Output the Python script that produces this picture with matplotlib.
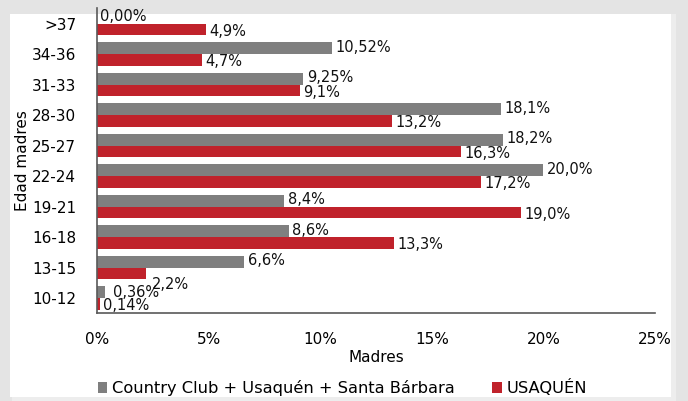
import matplotlib.pyplot as plt
import numpy as np
from matplotlib.patches import Rectangle

categorias = ["10-12", "13-15", "16-18", "19-21", "22-24", "25-27", "28-30", "31-33", "34-36", ">37"]
country = [0.36, 6.6, 8.6, 8.4, 20.0, 18.2, 18.1, 9.25, 10.52, 0.0]
usaquen = [0.14, 2.2, 13.3, 19.0, 17.2, 16.3, 13.2, 9.1, 4.7, 4.9]
etiq_country = ["0,36%", "6,6%", "8,6%", "8,4%", "20,0%", "18,2%", "18,1%", "9,25%", "10,52%", "0,00%"]
etiq_usaquen = ["0,14%", "2,2%", "13,3%", "19,0%", "17,2%", "16,3%", "13,2%", "9,1%", "4,7%", "4,9%"]

gris = "#7f7f7f"
rojo = "#c0222b"

fig = plt.figure(figsize=(6.88, 4.01), dpi=100)
fig.patch.set_facecolor("#e4e4e4")
# panel blanco con sombra suave
fig.patches.append(Rectangle((0.018, 0.0), 0.965, 0.965, transform=fig.transFigure,
                             facecolor="#ededed", edgecolor="none", zorder=-10))
fig.patches.append(Rectangle((0.014, 0.01), 0.962, 0.955, transform=fig.transFigure,
                             facecolor="white", edgecolor="none", zorder=-9))

ax = fig.add_axes([97/688, 1-313/401, (655-97)/688, (313-8)/401])
ax.set_facecolor("none")

y = np.arange(len(categorias))
h = 0.38
ax.barh(y + h/2, country, height=h, color=gris, label="Country Club + Usaquén + Santa Bárbara")
ax.barh(y - h/2, usaquen, height=h, color=rojo, label="USAQUÉN")

fs = 10.5
for i in range(len(categorias)):
    dx, dy = 0.15, 0.03
    if i == 0:
        dx, dy = 0.35, 0.0
    ax.text(country[i] + dx, y[i] + h/2 + dy, etiq_country[i], va="center", ha="left",
            fontsize=fs, color="#111111")
    dx, dy = 0.15, -0.06
    if i == 1:
        dx, dy = 0.25, -0.36
    ax.text(usaquen[i] + dx, y[i] - h/2 + dy, etiq_usaquen[i], va="center", ha="left",
            fontsize=fs, color="#111111")

ax.set_xlim(0, 25)
ax.set_ylim(-0.49, 9.51)
ax.set_yticks(y)
ax.set_yticklabels(categorias, fontsize=11)
ax.set_xticks([0, 5, 10, 15, 20, 25])
ax.set_xticklabels(["0%", "5%", "10%", "15%", "20%", "25%"], fontsize=11)
ax.tick_params(length=0)
ax.tick_params(axis="y", pad=15)
ax.tick_params(axis="x", pad=14)
for s in ["top", "right"]:
    ax.spines[s].set_visible(False)
for s in ["left", "bottom"]:
    ax.spines[s].set_color("#595959")
    ax.spines[s].set_linewidth(1.2)

ax.set_xlabel("Madres", fontsize=11, labelpad=2)
ax.set_ylabel("Edad madres", fontsize=11, labelpad=1)

ax.legend(loc="center", bbox_to_anchor=(0.44, -0.245), ncol=2, frameon=False,
          fontsize=11.7, handlelength=0.6, handleheight=0.6, handletextpad=0.3, columnspacing=2.3)

fig.savefig("out.png", dpi=100, facecolor=fig.get_facecolor())
